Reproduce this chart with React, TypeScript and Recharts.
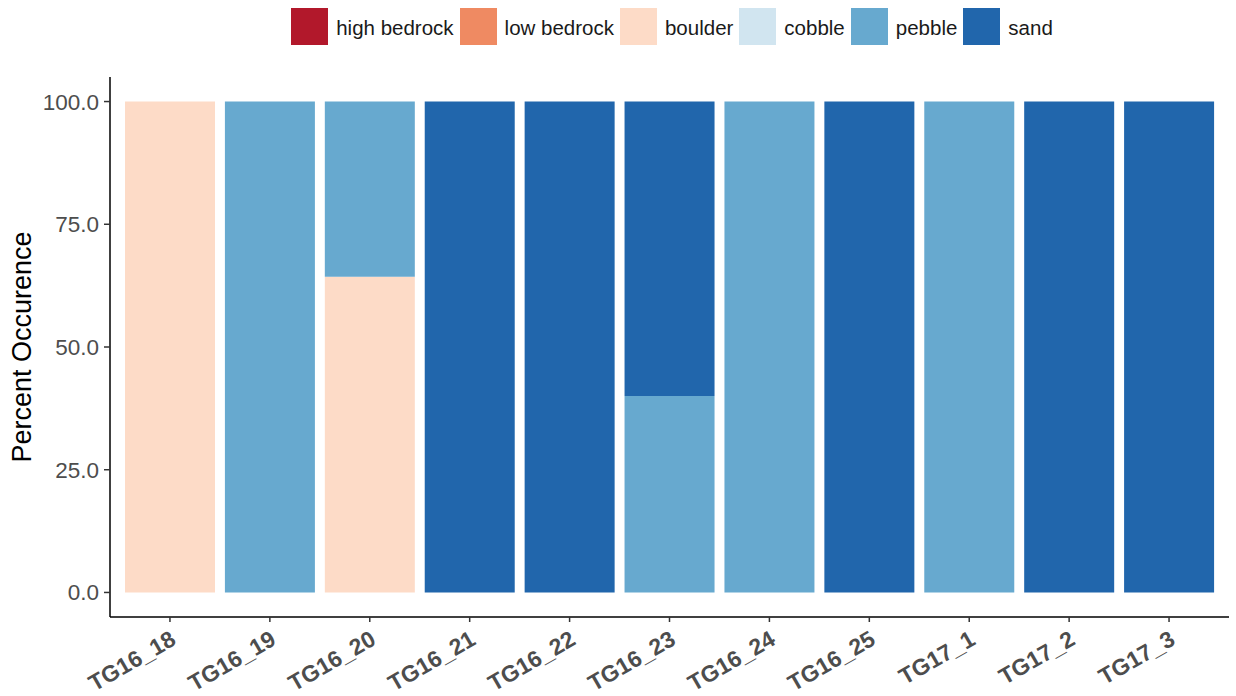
import { BarChart, Bar, XAxis, YAxis } from "recharts";

const categories = [
  "TG16_18", "TG16_19", "TG16_20", "TG16_21", "TG16_22", "TG16_23",
  "TG16_24", "TG16_25", "TG17_1", "TG17_2", "TG17_3",
];

const highBedrock = [0, 0, 0, 0, 0, 0, 0, 0, 0, 0, 0];
const lowBedrock = [0, 0, 0, 0, 0, 0, 0, 0, 0, 0, 0];
const boulder = [100, 0, 64.3, 0, 0, 0, 0, 0, 0, 0, 0];
const cobble = [0, 0, 0, 0, 0, 0, 0, 0, 0, 0, 0];
const pebble = [0, 100, 35.7, 0, 0, 40, 100, 0, 100, 0, 0];
const sand = [0, 0, 0, 100, 100, 60, 0, 100, 0, 100, 100];

const yTicks = [0, 25, 50, 75, 100];

const SERIES = [
  { key: "high bedrock", values: highBedrock, color: "#B2182B" },
  { key: "low bedrock", values: lowBedrock, color: "#EF8A62" },
  { key: "boulder", values: boulder, color: "#FDDBC7" },
  { key: "cobble", values: cobble, color: "#D1E5F0" },
  { key: "pebble", values: pebble, color: "#67A9CF" },
  { key: "sand", values: sand, color: "#2166AC" },
];

const data = categories.map((site, i) => {
  const row: Record<string, string | number> = { site };
  SERIES.forEach((s) => (row[s.key] = s.values[i]));
  return row;
});

const FONT = "'Liberation Sans', Arial, Helvetica, sans-serif";

function SiteTick({ x, y, payload }: any) {
  return (
    <text
      transform={`translate(${x - 1},${y + 5}) rotate(-30)`}
      textAnchor="end"
      dy={17}
      fontSize={23}
      fontWeight="bold"
      fill="#4d4d4d"
      fontFamily={FONT}
    >
      {payload.value}
    </text>
  );
}

function YTitle({ viewBox }: any) {
  const cy = viewBox.y + viewBox.height / 2;
  return (
    <text
      transform={`translate(31,${cy}) rotate(-90)`}
      textAnchor="middle"
      fontSize={27}
      fill="#000"
      fontFamily={FONT}
    >
      Percent Occurence
    </text>
  );
}

export default function App() {
  return (
    <div
      style={{
        position: "absolute",
        left: 0,
        top: 0,
        width: 1236,
        height: 696,
        background: "#fff",
        fontFamily: FONT,
      }}
    >
      {/* legend along the top */}
      <div
        style={{
          position: "absolute",
          top: 8,
          left: 0,
          width: 1236,
          paddingLeft: 114,
          boxSizing: "border-box",
          display: "flex",
          justifyContent: "center",
          alignItems: "center",
        }}
      >
        {SERIES.map((s) => (
          <div key={s.key} style={{ display: "flex", alignItems: "center", marginRight: 6 }}>
            <div style={{ width: 37, height: 37, background: s.color, marginRight: 8 }} />
            <span style={{ fontSize: 20.5, color: "#1a1a1a", position: "relative", top: 1 }}>
              {s.key}
            </span>
          </div>
        ))}
      </div>
      <BarChart
        width={1236}
        height={696}
        data={data}
        margin={{ top: 77, right: 7, bottom: 0, left: 0 }}
      >
        <XAxis
          dataKey="site"
          height={79}
          padding={{ left: 10, right: 10 }}
          tick={<SiteTick />}
          tickSize={5}
          tickLine={{ stroke: "#333", strokeWidth: 1.5 }}
          axisLine={{ stroke: "#000", strokeWidth: 1.5 }}
          interval={0}
        />
        <YAxis
          width={110}
          domain={[-5, 105]}
          ticks={yTicks}
          tickFormatter={(v: number) => v.toFixed(1)}
          tickSize={6}
          tickMargin={5}
          tick={{ fontSize: 22.5, fill: "#4d4d4d", fontFamily: FONT }}
          tickLine={{ stroke: "#333", strokeWidth: 1.5 }}
          axisLine={{ stroke: "#000", strokeWidth: 1.5 }}
          allowDataOverflow
          label={<YTitle />}
        />
        {SERIES.map((s) => (
          <Bar
            key={s.key}
            dataKey={s.key}
            stackId="a"
            fill={s.color}
            barSize={90}
            isAnimationActive={false}
          />
        ))}
      </BarChart>
    </div>
  );
}
